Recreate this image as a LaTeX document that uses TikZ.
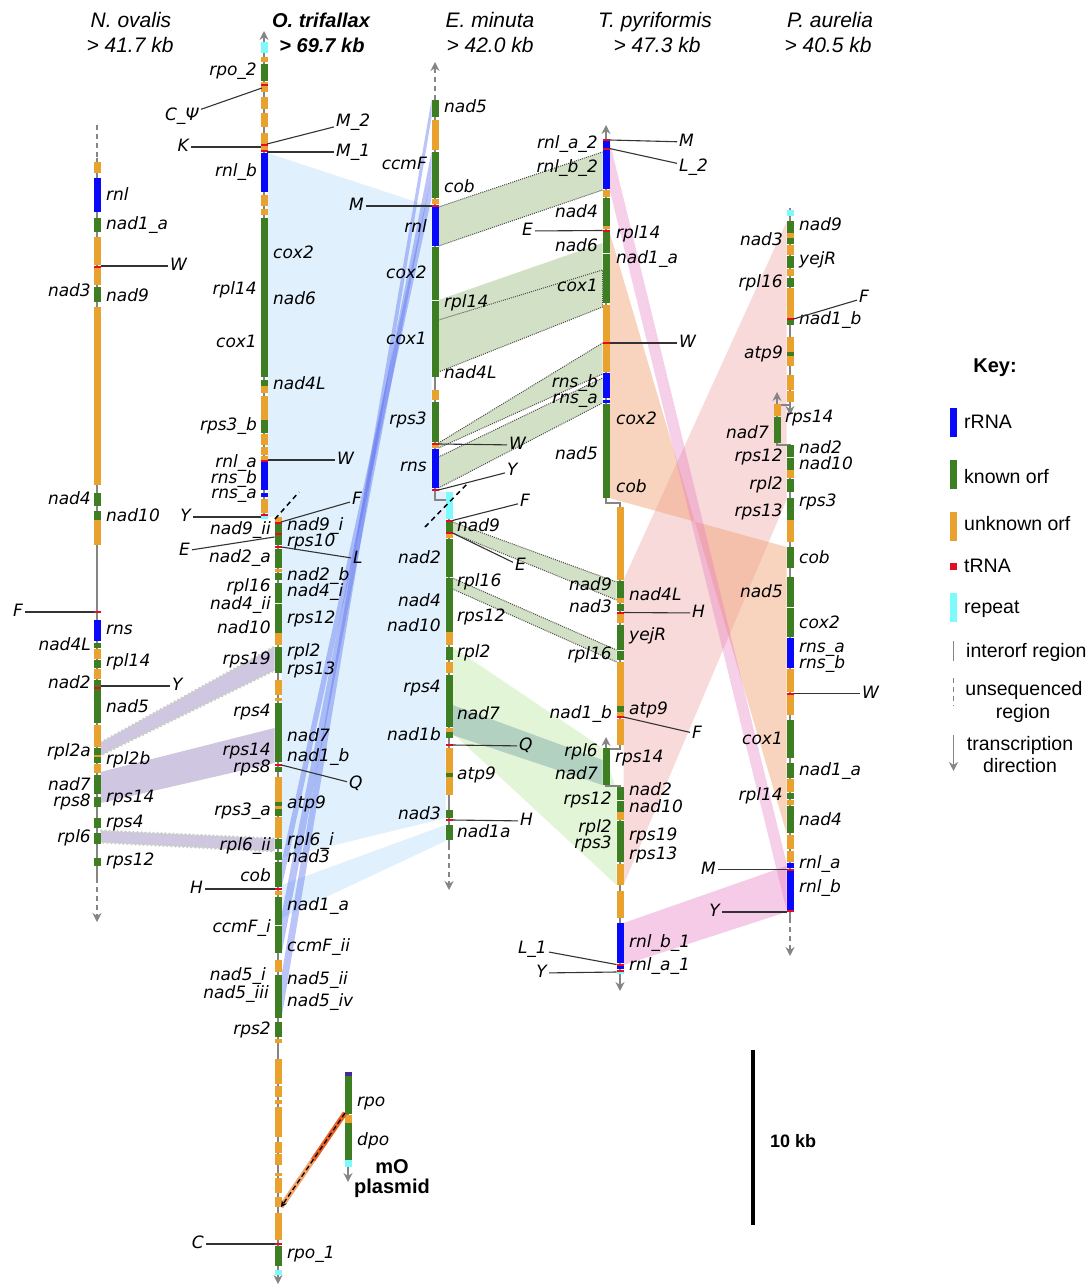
\documentclass[tikz,border=0pt]{standalone}
\usepackage{fontspec}
\setmainfont{Liberation Sans}
\newfontfamily\gfont{DejaVu Sans}
\usetikzlibrary{arrows.meta,decorations.pathmorphing}
\definecolor{rr}{RGB}{8,8,250}
\definecolor{kg}{RGB}{62,126,34}
\definecolor{uo}{RGB}{233,162,45}
\definecolor{tr}{RGB}{230,10,40}
\definecolor{rp}{RGB}{125,250,252}
\definecolor{pu}{RGB}{70,40,150}
\definecolor{lbc}{RGB}{224,240,252}
\definecolor{bvc}{RGB}{95,115,240}
\definecolor{lvc}{RGB}{207,198,226}
\definecolor{ggc}{RGB}{210,225,198}
\definecolor{pgc}{RGB}{226,245,214}
\definecolor{tlc}{RGB}{140,180,175}
\definecolor{pkc}{RGB}{240,175,175}
\definecolor{pec}{RGB}{240,160,115}
\definecolor{psc}{RGB}{232,120,192}
\tikzset{gt/.tip={Stealth[length=9pt,width=9pt]}}
\newcounter{lb}
\newcommand\rlab[3]{\stepcounter{lb}\node[gene,anchor=west] (g\arabic{lb}) at (#1,#2) {#3};}
\newcommand\llab[3]{\stepcounter{lb}\node[gene,anchor=east] (g\arabic{lb}) at (#1,#2) {#3};}
\newcommand\tconn[6]{\stepcounter{lb}\coordinate (c\arabic{lb}) at (#1,#2);\node[tl,anchor=#6] (t\arabic{lb}) at (#3,#4) {#5};\draw[tline] (c\arabic{lb}) -- (t\arabic{lb});}
\newcommand\gcol[2]{\foreach \cl/\ya/\yb in {#2} {\fill[\cl] ({#1-3.5},\ya) rectangle ({#1+3.5},\yb);}}
\begin{document}
\begin{tikzpicture}[x=1pt,y=-1pt,
  gene/.style={font=\gfont\itshape\fontsize{17}{17}\selectfont, inner sep=0pt, text height=12.5pt, text depth=3.5pt},
  tl/.style={gene, inner sep=2pt},
  tline/.style={draw=black!80, line width=1.1pt},
  bb/.style={draw=black!48, line width=1.6pt},
  bbd/.style={bb, dash pattern=on 5pt off 4pt},
  hdr/.style={font=\itshape\fontsize{21}{21}\selectfont, inner sep=0pt},
  key/.style={font=\fontsize{19.5}{19.5}\selectfont, inner sep=0pt},
  dotedge/.style={draw=black!70, line width=1pt, dash pattern=on 1pt off 1.1pt},
  zz/.style={draw=black!20, line width=1.1pt, decorate, decoration={zigzag,segment length=4pt,amplitude=1pt}},
  bkdash/.style={draw=black, line width=1.5pt, dash pattern=on 5pt off 4pt}]
\useasboundingbox (0,0) rectangle (1090,1287);
\fill[white] (0,0) rectangle (1090,1287);

% ---------- synteny bands ----------
\fill[lbc] (267.5,153) -- (431.5,207) -- (431.5,490) -- (445.5,492) -- (445.5,818) -- (281.5,858) -- (281.5,517) -- (267.5,517) -- cycle;
\fill[lbc] (281.5,885) -- (445.5,825) -- (445.5,841) -- (281.5,918) -- cycle;
\fill[bvc,opacity=0.42] (431.5,100) -- (431.5,117) -- (281.5,1018) -- (281.5,975) -- cycle;
\fill[bvc,opacity=0.42] (431.5,152) -- (431.5,175) -- (281.5,954) -- (281.5,915) -- cycle;
\fill[bvc,opacity=0.42] (431.5,176) -- (431.5,198) -- (281.5,888) -- (281.5,862) -- cycle;

\fill[lvc] (100.5,743) -- (274.5,647) -- (274.5,670) -- (100.5,755) -- cycle;
\draw[zz] (100.5,743) -- (274.5,647); \draw[zz] (100.5,755) -- (274.5,670);
\fill[lvc] (100.5,772) -- (274.5,728) -- (274.5,763) -- (100.5,803) -- cycle;
\fill[lvc] (100.5,831) -- (274.5,839) -- (274.5,851) -- (100.5,842) -- cycle;
\draw[zz] (100.5,831) -- (274.5,839); \draw[zz] (100.5,842) -- (274.5,851);

\fill[ggc] (438.5,207) -- (602.5,152) -- (602.5,190) -- (438.5,246) -- cycle;
\draw[dotedge] (438.5,207) -- (602.5,152); \draw[dotedge] (438.5,246) -- (602.5,190);
\fill[ggc] (438.5,300) -- (602.5,243) -- (602.5,270) -- (438.5,320) -- cycle;
\fill[ggc] (438.5,320) -- (602.5,270) -- (602.5,307) -- (438.5,372) -- cycle;
\draw[dotedge] (438.5,320) -- (602.5,270) -- (602.5,307) -- (438.5,372);
\fill[ggc] (438.5,443) -- (602.5,343) -- (602.5,374) -- (438.5,448) -- cycle;
\draw[dotedge] (438.5,443) -- (602.5,343); \draw[dotedge] (438.5,448) -- (602.5,374);
\fill[ggc] (438.5,457) -- (602.5,378) -- (602.5,403) -- (438.5,488) -- cycle;
\draw[dotedge] (438.5,457) -- (602.5,378); \draw[dotedge] (438.5,488) -- (602.5,403);
\fill[ggc] (452.5,522) -- (616.5,582) -- (616.5,600) -- (452.5,533) -- cycle;
\draw[dotedge] (452.5,522) -- (616.5,582); \draw[dotedge] (452.5,533) -- (616.5,600);
\fill[ggc] (452.5,578) -- (616.5,650) -- (616.5,662) -- (452.5,589) -- cycle;
\draw[dotedge] (452.5,578) -- (616.5,650); \draw[dotedge] (452.5,589) -- (616.5,662);

\fill[pgc] (452.5,647) -- (602.5,748) -- (616.5,790) -- (616.5,885) -- (452.5,733) -- cycle;
\fill[tlc,opacity=0.55] (452.5,705) -- (602.5,760) -- (602.5,785) -- (452.5,735) -- cycle;

\fill[pkc,opacity=0.45] (623.5,580) -- (786.5,222) -- (786.5,500) -- (623.5,885) -- cycle;
\fill[pec,opacity=0.45] (609.5,232) -- (786.5,833) -- (786.5,547) -- (609.5,498) -- cycle;
\fill[psc,opacity=0.35] (609.5,150) -- (786.5,868) -- (786.5,910) -- (609.5,189) -- cycle;
\fill[psc,opacity=0.35] (609.5,141) -- (786.5,863) -- (786.5,868) -- (609.5,150) -- cycle;
\fill[psc,opacity=0.38] (623.5,923) -- (786.5,866) -- (786.5,912) -- (623.5,965) -- cycle;

% ---------- backbones ----------
\draw[bbd] (97,125) -- (97,160);
\draw[bb] (97,158) -- (97,878);
\draw[bbd,-gt] (97,878) -- (97,922);
\draw[bb,gt-] (264,31) -- (264,519);
\draw[bb,-gt] (278,517) -- (278,1284);
\draw[bb,-gt] (348,1072) -- (348,1182);
\draw[bbd,gt-] (435,62) -- (435,100);
\draw[bb] (435,100) -- (435,500) -- (447,500);
\draw[bb] (449,492) -- (449,845);
\draw[bbd,-gt] (449,845) -- (449,890);
\draw[bb,gt-] (606,125) -- (606,503) -- (620,503) -- (620,749) -- (609,749);
\draw[bb,gt-gt] (606,737) -- (606,786) -- (620,786) -- (620,991);
\draw[bb,-gt] (790,208) -- (790,415);
\draw[bb] (777,405) -- (790,405);
\draw[bb,gt-] (777,392) -- (777,445) -- (790,445) -- (790,918);
\draw[bbd,-gt] (790,918) -- (790,956);

% ---------- blocks ----------
\gcol{97}{uo/162/173, rr/178/212, kg/218/232, uo/237/265, tr/265.5/267.5, uo/268/285, kg/287/302, uo/307/485, kg/493/506, kg/511/520, uo/520/545, tr/610.5/612.5, rr/620/641, kg/643/648, uo/649/659, kg/660/668, uo/669/679, kg/680/687, tr/687/689, kg/689/723, uo/725/747, kg/748/755, uo/755/757, kg/757/763, uo/764/773, kg/775/794, kg/797/807, kg/818/828, kg/833/844, kg/858/866}
\gcol{264}{rp/42/53, uo/57/62, kg/64/81, uo/82/92, tr/84/86, uo/97/109, uo/113/127, uo/133/152, tr/143.5/145.5, tr/149.5/151.5, rr/153/192, uo/195/206, uo/209/215, kg/218/377, kg/380/386, uo/386/393, uo/396/420, kg/420/433, uo/434/445, uo/447/455, uo/456/460, tr/460/462, rr/462/490, rr/493/497, uo/499/513, tr/514/516, rp/516/519}
\gcol{278}{uo/517/522, tr/521.5/523.5, kg/524/533, tr/533/535, kg/535/545, tr/546/548, kg/549/568, uo/569/572, kg/573/580, kg/583/633, white/602.5/603.5, uo/633/645, kg/647/673, uo/680/695, uo/698/701, kg/703/762, tr/764/766, kg/767/772, uo/777/802, kg/802/806, uo/806/809, kg/809/816, uo/817/838, kg/839/849, kg/852/860, kg/862/887, tr/888/890, uo/891/895, kg/897/953, white/925/926, uo/960/972, kg/975/1018, kg/1022/1037, uo/1039/1043, uo/1059/1084, uo/1086/1097, uo/1100/1104, uo/1107/1137, uo/1142/1153, uo/1154/1165, uo/1173/1176, uo/1178/1193, uo/1197/1207, uo/1213/1240, tr/1243/1245, kg/1246/1266, rp/1270/1275}
\gcol{348}{pu/1072/1076, kg/1076/1114, uo/1115/1123, kg/1123/1160, rp/1160/1167}
\gcol{435}{kg/100/117, uo/120/150, kg/152/198, uo/199/204, tr/204.5/206.5, rr/207/246, kg/247/377, white/299.5/300.5, uo/390/400, kg/402/442, tr/443/445, uo/445/448, rr/449/488, tr/489/491}
\gcol{449}{rp/492/519, tr/519.5/521.5, kg/522/532, tr/532/534, uo/534/538, kg/539/577, kg/578/632, uo/632/645, kg/647/660, uo/662/673, kg/675/727, uo/728/732, kg/732/738, tr/744/746, uo/748/773, kg/773/777, uo/777/795, kg/810/818, tr/819/821, kg/825/840}
\gcol{606}{tr/139/141, rr/141/147.5, tr/147.5/149.5, rr/149.5/189, uo/190/197, kg/198/226, uo/226/229, tr/229.5/231.5, kg/232/303, white/252.5/253.5, uo/305/342, tr/342/344, uo/344/372, rr/373/398, rr/400/403, kg/404/498, kg/748/785}
\gcol{620}{uo/507/580, kg/581/598, uo/598/603, kg/604/611, tr/611.5/613.5, uo/614/623, kg/625/660, white/649.5/650.5, uo/662/706, kg/706/712, uo/712/716, tr/716/718, uo/719/745, kg/787/812, white/799.5/800.5, uo/812/820, kg/821/862, uo/864/885, uo/891/918, rr/923/963, tr/963.5/965.5, rr/966/969, tr/969.5/971.5, rp/971.5/974}
\gcol{790}{rp/210/216, kg/221/233, uo/233/238, kg/238/244, uo/245/255, kg/256/268, uo/269/276, kg/278/287, uo/288/318, tr/318/320, kg/320/325, uo/337/352, kg/352/356, uo/356/366, uo/375/390, uo/391/402, kg/445/470, white/456.5/457.5, uo/470/478, kg/479/492, kg/498/520, uo/520/542, kg/547/568, kg/577/637, white/606.5/607.5, rr/638/668, uo/669/692, tr/692.5/694.5, uo/695/715, kg/720/758, kg/763/778, uo/779/792, kg/793/799, uo/800/805, kg/806/833, uo/835/849, uo/851/862, rr/863/868, tr/868.5/870.5, rr/871/910, tr/910/912}
\gcol{777}{uo/404/416, kg/417/443}

% break marks and plasmid link
\coordinate (bkA1) at (275,519); \coordinate (bkA2) at (299,492);
\draw[bkdash] (bkA1) -- (bkA2);
\coordinate (bkB1) at (425,527); \coordinate (bkB2) at (468,483);
\draw[bkdash] (bkB1) -- (bkB2);
\coordinate (mA) at (345,1113); \coordinate (mM) at (313,1160); \coordinate (mB) at (281,1207);
\draw[line width=5pt, draw={rgb,255:red,235;green,95;blue,35}] (mA) -- (mM);
\draw[line width=5pt, draw={rgb,255:red,245;green,165;blue,105}] (mM) -- (mB);
\draw[draw=black, line width=1.3pt, dash pattern=on 5pt off 3pt, -{Stealth[length=6pt,width=6pt]}] (mA) -- (mB);

% ---------- gene labels ----------
\rlab{106}{196}{rnl} \rlab{106}{225}{nad1\_a} \rlab{106}{297}{nad9} \rlab{106}{517}{nad10} \rlab{106}{630}{rns} \rlab{106}{662}{rpl14} \rlab{106}{708}{nad5} \rlab{106}{760}{rpl2b} \rlab{106}{798}{rps14} \rlab{106}{823}{rps4} \rlab{106}{861}{rps12}
\llab{91}{292}{nad3} \llab{91}{500}{nad4} \llab{91}{646}{nad4L} \llab{91}{684}{nad2} \llab{91}{752}{rpl2a} \llab{91}{786}{nad7} \llab{91}{802}{rps8} \llab{91}{838}{rpl6}

\rlab{273}{254}{cox2} \rlab{273}{300}{nad6} \rlab{273}{385}{nad4L}
\llab{257}{71}{rpo\_2} \llab{257}{172}{rnl\_b} \llab{257}{290}{rpl14} \llab{257}{343}{cox1} \llab{257}{426}{rps3\_b} \llab{257}{463}{rnl\_a} \llab{257}{479}{rns\_b} \llab{257}{494}{rns\_a}

\rlab{287}{526}{nad9\_i} \rlab{287}{542}{rps10} \rlab{287}{576}{nad2\_b} \rlab{287}{592}{nad4\_i} \rlab{287}{619}{rps12} \rlab{287}{652}{rpl2} \rlab{287}{670}{rps13} \rlab{287}{737}{nad7} \rlab{287}{757}{nad1\_b} \rlab{287}{804}{atp9} \rlab{287}{841}{rpl6\_i} \rlab{287}{858}{nad3} \rlab{287}{906}{nad1\_a} \rlab{287}{947}{ccmF\_ii} \rlab{287}{980}{nad5\_ii} \rlab{287}{1002}{nad5\_iv} \rlab{287}{1254}{rpo\_1}
\llab{271}{530}{nad9\_ii} \llab{271}{558}{nad2\_a} \llab{271}{587}{rpl16} \llab{271}{605}{nad4\_ii} \llab{271}{629}{nad10} \llab{271}{660}{rps19} \llab{271}{712}{rps4} \llab{271}{751}{rps14} \llab{271}{768}{rps8} \llab{271}{811}{rps3\_a} \llab{271}{846}{rpl6\_ii} \llab{271}{877}{cob} \llab{271}{928}{ccmF\_i} \llab{266}{976}{nad5\_i} \llab{269}{994}{nad5\_iii} \llab{271}{1030}{rps2}

\rlab{357}{1102}{rpo} \rlab{357}{1141}{dpo}

\rlab{444}{108}{nad5} \rlab{444}{188}{cob} \rlab{444}{303}{rpl14} \rlab{444}{374}{nad4L}
\llab{427}{165}{ccmF} \llab{427}{228}{rnl} \llab{427}{274}{cox2} \llab{427}{340}{cox1} \llab{427}{420}{rps3} \llab{427}{467}{rns}
\rlab{457}{527}{nad9} \rlab{457}{582}{rpl16} \rlab{457}{617}{rps12} \rlab{457}{653}{rpl2} \rlab{457}{715}{nad7} \rlab{457}{775}{atp9} \rlab{457}{833}{nad1a}
\llab{441}{559}{nad2} \llab{441}{602}{nad4} \llab{441}{627}{nad10} \llab{441}{688}{rps4} \llab{441}{736}{nad1b} \llab{441}{815}{nad3}

\llab{598}{144}{rnl\_a\_2} \llab{598}{168}{rnl\_b\_2} \llab{598}{213}{nad4} \llab{598}{247}{nad6} \llab{598}{287}{cox1} \llab{598}{383}{rns\_b} \llab{598}{399}{rns\_a} \llab{598}{455}{nad5}
\rlab{616}{234}{rpl14} \rlab{616}{259}{nad1\_a} \rlab{616}{420}{cox2} \rlab{616}{488}{cob}
\llab{612}{586}{nad9} \llab{612}{608}{nad3} \llab{612}{655}{rpl16} \llab{612}{714}{nad1\_b} \llab{612}{800}{rps12} \llab{612}{828}{rpl2} \llab{612}{844}{rps3}
\rlab{629}{596}{nad4L} \rlab{629}{636}{yejR} \rlab{629}{710}{atp9} \rlab{629}{791}{nad2} \rlab{629}{808}{nad10} \rlab{629}{836}{rps19} \rlab{629}{855}{rps13} \rlab{629}{943}{rnl\_b\_1} \rlab{629}{966}{rnl\_a\_1}
\llab{598}{752}{rpl6} \llab{598}{775}{nad7} \rlab{615}{758}{rps14}

\rlab{799}{226}{nad9} \rlab{799}{260}{yejR} \rlab{799}{320}{nad1\_b} \rlab{799}{449}{nad2} \rlab{799}{465}{nad10} \rlab{799}{502}{rps3} \rlab{799}{559}{cob} \rlab{799}{624}{cox2} \rlab{799}{648}{rns\_a} \rlab{799}{664}{rns\_b} \rlab{799}{771}{nad1\_a} \rlab{799}{821}{nad4} \rlab{799}{864}{rnl\_a} \rlab{799}{888}{rnl\_b}
\llab{783}{241}{nad3} \llab{783}{283}{rpl16} \llab{783}{354}{atp9} \llab{783}{457}{rps12} \llab{783}{485}{rpl2} \llab{783}{512}{rps13} \llab{783}{593}{nad5} \llab{783}{740}{cox1} \llab{783}{796}{rpl14}
\llab{769}{434}{nad7} \rlab{785}{418}{rps14}

% ---------- tRNA connectors ----------
\tconn{100.5}{266}{168}{266}{W}{west}
\tconn{93.5}{612}{25}{612}{F}{east}
\tconn{100.5}{686}{170}{686}{Y}{west}
\tconn{262}{88}{201}{116}{C\_Ψ}{east}
\tconn{267}{144}{334}{122}{M\_2}{west}
\tconn{260.5}{147}{191}{147}{K}{east}
\tconn{267}{152}{334}{152}{M\_1}{west}
\tconn{267.5}{460}{335}{460}{W}{west}
\tconn{260.5}{517}{193}{517}{Y}{east}
\tconn{281}{522}{350}{500}{F}{west}
\tconn{274.5}{537}{192}{551}{E}{east}
\tconn{281.5}{547}{351}{559}{L}{west}
\tconn{281.5}{765}{347}{784}{Q}{west}
\tconn{274.5}{889}{205}{889}{H}{east}
\tconn{274.5}{1244}{206}{1244}{C}{east}
\tconn{431.5}{206}{366}{206}{M}{east}
\tconn{438.5}{444}{507}{445}{W}{west}
\tconn{438.5}{490}{505}{471}{Y}{west}
\tconn{452.5}{520.5}{518}{502}{F}{west}
\tconn{452.5}{533}{513}{566}{E}{west}
\tconn{452.5}{745}{517}{746}{Q}{west}
\tconn{452.5}{820}{518}{821}{H}{west}
\tconn{609.5}{140}{677}{142}{M}{west}
\tconn{609.5}{148.5}{677}{167}{L\_2}{west}
\tconn{602.5}{230.5}{535}{231}{E}{east}
\tconn{609.5}{343}{677}{343}{W}{west}
\tconn{623.5}{612.5}{690}{613}{H}{west}
\tconn{623.5}{717}{690}{734}{F}{west}
\tconn{616.5}{964.5}{549}{949}{L\_1}{east}
\tconn{616.5}{972}{549}{973}{Y}{east}
\tconn{793.5}{319}{857}{298}{F}{west}
\tconn{793.5}{693.5}{860}{693.5}{W}{west}
\tconn{786.5}{869.5}{718}{869.5}{M}{east}
\tconn{786.5}{912}{722}{912}{Y}{east}

% ---------- headers ----------
\node[hdr,anchor=base] (h1a) at (131,28) {N. ovalis};
\node[hdr,anchor=base] (h1b) at (130,53) {> 41.7 kb};
\node[hdr,anchor=base,font=\bfseries\itshape\fontsize{20}{20}\selectfont] (h2a) at (321,28) {O. trifallax};
\node[hdr,anchor=base,font=\bfseries\itshape\fontsize{20}{20}\selectfont] (h2b) at (322,53) {> 69.7 kb};
\node[hdr,anchor=base] (h3a) at (490,28) {E. minuta};
\node[hdr,anchor=base] (h3b) at (490,53) {> 42.0 kb};
\node[hdr,anchor=base] (h4a) at (655,28) {T. pyriformis};
\node[hdr,anchor=base] (h4b) at (657,53) {> 47.3 kb};
\node[hdr,anchor=base] (h5a) at (830,28) {P. aurelia};
\node[hdr,anchor=base] (h5b) at (828,53) {> 40.5 kb};

\node[anchor=base,inner sep=0pt,font=\bfseries\fontsize{20}{20}\selectfont] (mo1) at (392,1173) {mO};
\node[anchor=base,inner sep=0pt,font=\bfseries\fontsize{20}{20}\selectfont] (mo2) at (392,1193) {plasmid};

% ---------- key ----------
\node[key,anchor=base,font=\bfseries\fontsize{20}{20}\selectfont] (kk) at (995,372) {Key:};
\fill[rr] (950,408) rectangle (957,437); \node[key,anchor=base west] (k1) at (964,428) {rRNA};
\fill[kg] (950,460) rectangle (957,489); \node[key,anchor=base west] (k2) at (964,483) {known orf};
\fill[uo] (950,512) rectangle (957,541); \node[key,anchor=base west] (k3) at (964,530) {unknown orf};
\fill[tr] (950,563) rectangle (957,570); \node[key,anchor=base west] (k4) at (964,572) {tRNA};
\fill[rp] (950,593) rectangle (957,622); \node[key,anchor=base west] (k5) at (964,613) {repeat};
\draw[bb] (953.5,641) -- (953.5,661); \node[key,anchor=base west] (k6) at (966,657) {interorf region};
\draw[bbd] (953.5,678) -- (953.5,706); \node[key,anchor=base] (k7) at (1024,695) {unsequenced};
\node[key,anchor=base] (k8) at (1023,718) {region};
\draw[bb,-gt] (953.5,735) -- (953.5,771); \node[key,anchor=base] (k9) at (1020,750) {transcription};
\node[key,anchor=base] (k10) at (1020,772) {direction};

% ---------- scale ----------
\draw[line width=3.5pt] (753,1050) -- (753,1225);
\node[anchor=base west,inner sep=0pt,font=\bfseries\fontsize{18}{18}\selectfont] (sc) at (770,1147) {10 kb};
\end{tikzpicture}
\end{document}
